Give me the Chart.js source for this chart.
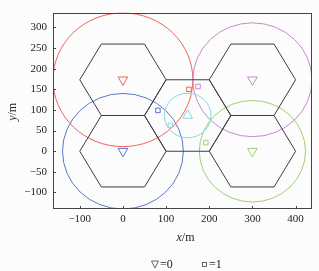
<!DOCTYPE html>
<html>
<head>
<meta charset="utf-8">
<script src="https://cdn.jsdelivr.net/npm/chart.js@4"></script>
<style>
  html, body { margin: 0; padding: 0; background: #fcfcfc; }
  canvas { display: block; }
</style>
</head>
<body>
<canvas id="cv" width="319" height="271"></canvas>
<script>
'use strict';

/* base stations (cell centres) and their coverage circles */
const bsX = [0, 0, 300, 300, 150];
const bsY = [173.2, 0, 173.2, 0, 86.6];
const coverR = [162, 140, 138, 123, 54];
const bsColors = ['#f0625c', '#5b78c6', '#c48bc9', '#9bd074', '#8ad6df'];
const bsStyle = ['down', 'down', 'down', 'down', 'up'];

/* users (squares), colour = serving station */
const userX = [153, 174, 81, 110, 192];
const userY = [150, 157, 99, 63, 21];
const userBs = [0, 2, 1, 4, 3];

/* hexagon cells */
const hexX = [0, 0, 150, 300, 300];
const hexY = [0, 173.2, 86.6, 0, 173.2];
const hexR = 100;

/* axes */
const xTicks = [-100, 0, 100, 200, 300, 400];
const yTicks = [-100, -50, 0, 50, 100, 150, 200, 250, 300];
const legendLabels = ['=0', '=1'];

const FONT = "'Liberation Serif', 'DejaVu Serif', serif";

const datasets = [];
bsX.forEach((bx, i) => {
    datasets.push({
        data: [{ x: bx, y: bsY[i] }],
        pointStyle: 'triangle',
        rotation: bsStyle[i] === 'down' ? 180 : 0,
        pointRadius: 5.6,
        borderColor: bsColors[i],
        backgroundColor: 'rgba(0,0,0,0)',
        borderWidth: 1
    });
});
userX.forEach((ux, i) => {
    datasets.push({
        data: [{ x: ux, y: userY[i] }],
        pointStyle: 'rect',
        pointRadius: 3.2,
        borderColor: bsColors[userBs[i]],
        backgroundColor: 'rgba(0,0,0,0)',
        borderWidth: 1
    });
});

const cellPlugin = {
    id: 'cells',
    beforeDatasetsDraw(chart) {
        const { ctx, chartArea: a, scales: { x, y } } = chart;
        ctx.save();
        ctx.beginPath();
        ctx.rect(a.left, a.top, a.right - a.left, a.bottom - a.top);
        ctx.clip();
        // coverage circles
        bsX.forEach((bx, i) => {
            const cx = x.getPixelForValue(bx), cy = y.getPixelForValue(bsY[i]);
            const rx = Math.abs(x.getPixelForValue(bx + coverR[i]) - cx);
            const ry = Math.abs(y.getPixelForValue(bsY[i] + coverR[i]) - cy);
            ctx.beginPath();
            ctx.ellipse(cx, cy, rx, ry, 0, 0, Math.PI * 2);
            ctx.strokeStyle = bsColors[i];
            ctx.lineWidth = 1;
            ctx.stroke();
        });
        // hexagons
        ctx.strokeStyle = '#3c3c3c';
        ctx.lineWidth = 1;
        hexX.forEach((hx, i) => {
            ctx.beginPath();
            for (let k = 0; k <= 6; k++) {
                const ang = k * Math.PI / 3;
                const px = x.getPixelForValue(hx + hexR * Math.cos(ang));
                const py = y.getPixelForValue(hexY[i] + hexR * Math.sin(ang));
                if (k === 0) ctx.moveTo(px, py); else ctx.lineTo(px, py);
            }
            ctx.stroke();
        });
        ctx.restore();
    },
    afterDraw(chart) {
        const { ctx, chartArea: a, scales: { x, y } } = chart;
        ctx.save();
        // frame
        ctx.strokeStyle = '#444';
        ctx.lineWidth = 1;
        ctx.strokeRect(Math.round(a.left) + 0.5, Math.round(a.top) + 0.5,
            Math.round(a.right - a.left) - 1, Math.round(a.bottom - a.top) - 1);
        // inward ticks
        ctx.beginPath();
        xTicks.forEach(v => {
            const px = Math.round(x.getPixelForValue(v)) + 0.5;
            ctx.moveTo(px, a.bottom); ctx.lineTo(px, a.bottom - 3);
        });
        yTicks.forEach(v => {
            const py = Math.round(y.getPixelForValue(v)) + 0.5;
            ctx.moveTo(a.left, py); ctx.lineTo(a.left + 3, py);
        });
        ctx.stroke();

        // axis titles: italic variable + upright unit
        ctx.fillStyle = '#222';
        ctx.textBaseline = 'middle';
        function title(cx, cy, rot) {
            ctx.save();
            ctx.translate(cx, cy);
            ctx.rotate(rot);
            ctx.font = 'italic 12px ' + FONT;
            const v = rot ? 'y' : 'x';
            const w1 = ctx.measureText(v).width;
            ctx.font = '12px ' + FONT;
            const w2 = ctx.measureText('/m').width;
            const x0 = -(w1 + w2) / 2;
            ctx.textAlign = 'left';
            ctx.font = 'italic 12px ' + FONT;
            ctx.fillText(v, x0, 0);
            ctx.font = '12px ' + FONT;
            ctx.fillText('/m', x0 + w1, 0);
            ctx.restore();
        }
        title((a.left + a.right) / 2 + 3, 238, 0);
        title(13, (a.top + a.bottom) / 2 + 1, -Math.PI / 2);

        // legend
        ctx.strokeStyle = '#555';
        ctx.lineWidth = 0.9;
        const ly = 264.5;
        ctx.beginPath();
        ctx.moveTo(151.5, ly - 3.5); ctx.lineTo(158.5, ly - 3.5); ctx.lineTo(155, ly + 3.5); ctx.closePath();
        ctx.stroke();
        ctx.strokeRect(202.5, ly - 2, 4, 4);
        ctx.font = '12px ' + FONT;
        ctx.textAlign = 'left';
        ctx.fillStyle = '#222';
        ctx.fillText(legendLabels[0], 160, ly);
        ctx.fillText(legendLabels[1], 209, ly);
        ctx.restore();
    }
};

new Chart(document.getElementById('cv'), {
    type: 'scatter',
    data: { datasets },
    plugins: [cellPlugin],
    options: {
        responsive: false,
        animation: false,
        devicePixelRatio: 1,
        layout: { padding: { left: 0, right: 7, top: 4, bottom: 0 } },
        plugins: { legend: { display: false }, tooltip: { enabled: false } },
        scales: {
            x: {
                type: 'linear', min: -162, max: 438,
                grid: { display: false, drawTicks: false },
                border: { display: false },
                afterBuildTicks: s => { s.ticks = xTicks.map(v => ({ value: v })); },
                afterFit: s => { s.height = 62; },
                ticks: {
                    padding: 4, color: '#222', maxRotation: 0,
                    font: { family: FONT, size: 11 },
                    callback: v => String(v).replace('-', '\u2212')
                }
            },
            y: {
                type: 'linear', min: -140, max: 336,
                grid: { display: false, drawTicks: false },
                border: { display: false },
                afterBuildTicks: s => { s.ticks = yTicks.map(v => ({ value: v })); },
                afterFit: s => { s.width = 53; },
                ticks: {
                    padding: 6, color: '#222',
                    font: { family: FONT, size: 11 },
                    callback: v => String(v).replace('-', '\u2212')
                }
            }
        }
    }
});
</script>
</body>
</html>
